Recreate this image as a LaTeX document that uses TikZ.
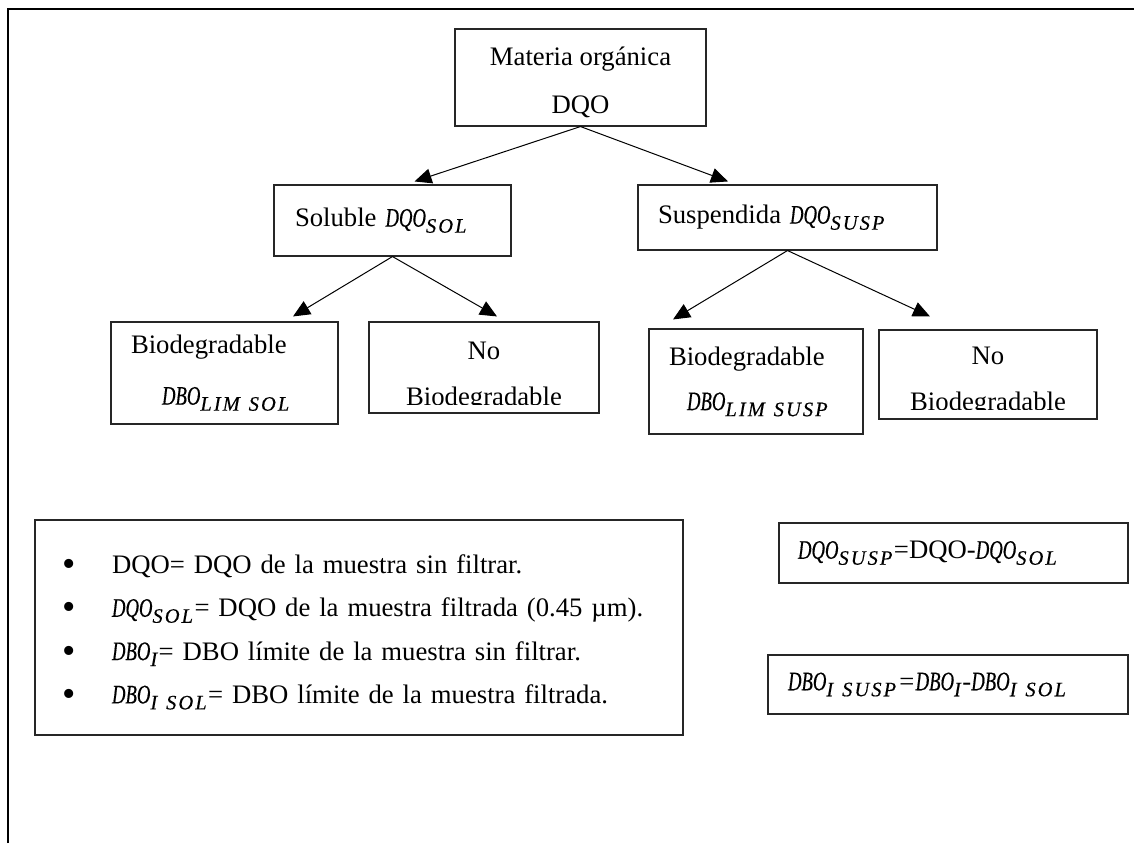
\documentclass[tikz,border=0pt]{standalone}
\usepackage{fontspec}
\setmainfont{Liberation Serif}
\newfontfamily\cmfont[FakeStretch=0.7,FakeBold=0.4]{Liberation Serif}
\newfontfamily\cmsub[LetterSpace=10,FakeBold=0.3]{Liberation Serif}
\usetikzlibrary{arrows.meta,positioning}
% squeezed italic variable with its subscript
\newcommand{\vsb}[2]{{\cmfont\itshape #1}\raisebox{-6pt}{\cmsub\itshape\fontsize{20.5}{21}\selectfont #2}\kern1.5pt}
% one line of the legend
\newcommand{\legline}[1]{\makebox[50pt][l]{\raisebox{-3pt}{\fontsize{38}{38}\selectfont\textbullet}}#1}

\begin{document}
\begin{tikzpicture}[x=1pt,y=-1pt,
  txt/.style={inner sep=0pt,align=center,font=\fontsize{26.7}{46}\selectfont},
  box/.style={rectangle,draw=black!85,line width=1.1pt,txt},
  arr/.style={-{Triangle[length=17pt,width=15pt]},line width=1pt}]
\useasboundingbox (0,0) rectangle (1139,843);
% page frame
\draw[line width=2pt] (8,843) -- (8,9) -- (1134,9);

\node[box,minimum width=251pt,minimum height=97pt,font=\fontsize{26.7}{48}\selectfont] (mo) at (580.5,77.5)
  {\rule{0pt}{29pt}Materia orgánica\\DQO};
\node[box,minimum width=237pt,minimum height=71pt,text width=195pt,align=left] (sol) at (392.5,220.5)
  {Soluble \vsb{DQO}{SOL}};
\node[box,minimum width=299pt,minimum height=65pt,text width=259pt,align=left] (susp) at (787.5,217.5)
  {Suspendida \vsb{DQO}{SUSP}};

\node[box,minimum width=227pt,minimum height=102pt,text width=187pt,align=left,
      font=\fontsize{26.7}{51}\selectfont] (bsol) at (224.5,373)
  {Biodegradable\\\hspace*{31pt}\vsb{DBO}{LIM SOL}};
\node[box,minimum width=230pt,minimum height=91pt] (nsol) at (484,367.5) {};
\begin{scope}
  \clip (nsol.north west) rectangle (599,404);
  \node[txt] (nsoltxt) at (484,377) {No\\Biodegradable};
\end{scope}

\node[box,minimum width=214pt,minimum height=105pt,text width=174pt,align=left,
      font=\fontsize{26.7}{45}\selectfont] (bsusp) at (756,381.5)
  {Biodegradable\\\hspace*{18pt}\vsb{DBO}{LIM SUSP}};
\node[box,minimum width=218pt,minimum height=89pt] (nsusp) at (988,374.5) {};
\begin{scope}
  \clip (nsusp.north west) rectangle (1097,409);
  \node[txt] (nsusptxt) at (988,382) {No\\Biodegradable};
\end{scope}

\draw[arr] (mo.south) -- ([xshift=22,yshift=3]sol.north);
\draw[arr] (mo.south) -- ([xshift=-59.5,yshift=3]susp.north);
\draw[arr] (sol.south) -- ([xshift=68.5,yshift=5]bsol.north);
\draw[arr] (sol.south) -- ([xshift=13,yshift=5]nsol.north);
\draw[arr] (susp.south) -- ([xshift=-83,yshift=9]bsusp.north);
\draw[arr] (susp.south) -- ([xshift=-58,yshift=13]nsusp.north);

% legend and relations
\node[box,minimum width=648pt,minimum height=215pt,text width=594pt,align=left,
      font=\fontsize{26.7}{43.3}\selectfont] (leg) at (359,627.5)
  {\rule{0pt}{28pt}\legline{DQO= DQO de la muestra sin filtrar.}\\
   \legline{\vsb{DQO}{SOL}= DQO de la muestra filtrada (0.45 µm).}\\
   \legline{\vsb{DBO}{I}= DBO límite de la muestra sin filtrar.}\\
   \legline{\vsb{DBO}{I SOL}= DBO límite de la muestra filtrada.}};
\node[box,minimum width=349pt,minimum height=60pt,text width=311pt,align=left] (eqa) at (953.5,553)
  {\vsb{DQO}{SUSP}=DQO-\vsb{DQO}{SOL}};
\node[box,minimum width=360pt,minimum height=59pt,text width=320pt,align=left] (eqb) at (948,684.5)
  {\vsb{DBO}{I SUSP}{\itshape=}\vsb{DBO}{I}{\itshape-}\vsb{DBO}{I SOL}};
\end{tikzpicture}
\end{document}
